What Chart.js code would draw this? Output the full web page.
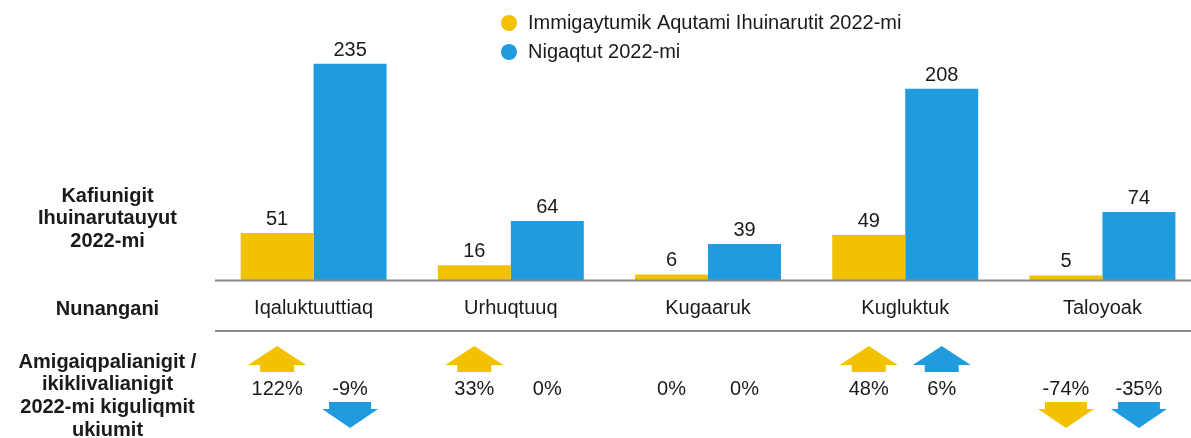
<!DOCTYPE html>
<html>
<head>
<meta charset="utf-8">
<script src="https://cdn.jsdelivr.net/npm/chart.js@4/dist/chart.umd.min.js"></script>
<style>
  html, body { margin: 0; padding: 0; background: #fff; }
  #wrap { width: 1191px; height: 438px; position: relative; }
</style>
</head>
<body>
<div id="wrap"><canvas id="chart"></canvas></div>
<script>
// data
var communities = ['Iqaluktuuttiaq', 'Urhuqtuuq', 'Kugaaruk', 'Kugluktuk', 'Taloyoak'];
var seriesNames = ['Immigaytumik Aqutami Ihuinarutit 2022-mi', 'Nigaqtut 2022-mi'];
var immigaytumik = [51, 16, 6, 49, 5];
var nigaqtut = [235, 64, 39, 208, 74];
var changeImmigaytumik = [122, 33, 0, 48, -74];
var changeNigaqtut = [-9, 0, 0, 6, -35];
var titleBars = ['Kafiunigit', 'Ihuinarutauyut', '2022-mi'];
var titleNames = ['Nunangani'];
var titleChange = ['Amigaiqpalianigit /', 'ikiklivalianigit', '2022-mi kiguliqmit', 'ukiumit'];

var YELLOW = 'rgb(242, 194, 0)';
var BLUE = 'rgb(32, 155, 222)';
var TEXT = '#1a1a1a';
var LINE = '#8a8a8a';
var FONT = "'Liberation Sans', Arial, sans-serif";

function toPoints(arr) {
    return arr.map(function(v, i) { return {x: i, y: v}; });
}

function drawArrow(ctx, cx, up, top, color) {
    ctx.fillStyle = color;
    ctx.beginPath();
    if (up) {
        // tip, head base, stem bottom
        ctx.moveTo(cx, top);
        ctx.lineTo(cx + 29, top + 19);
        ctx.lineTo(cx + 17, top + 19);
        ctx.lineTo(cx + 17, top + 26);
        ctx.lineTo(cx - 17, top + 26);
        ctx.lineTo(cx - 17, top + 19);
        ctx.lineTo(cx - 29, top + 19);
    } else {
        ctx.moveTo(cx - 21, top);
        ctx.lineTo(cx + 21, top);
        ctx.lineTo(cx + 21, top + 7);
        ctx.lineTo(cx + 28, top + 7);
        ctx.lineTo(cx, top + 26);
        ctx.lineTo(cx - 28, top + 7);
        ctx.lineTo(cx - 21, top + 7);
    }
    ctx.closePath();
    ctx.fill();
}

var tablePlugin = {
    id: 'tablePlugin',
    afterDatasetsDraw: function(chart) {
        var ctx = chart.ctx;
        var area = chart.chartArea;
        var base = chart.scales.y.getPixelForValue(0);
        var right = chart.width;
        ctx.save();

        // value labels above bars
        ctx.font = '20px ' + FONT;
        ctx.fillStyle = TEXT;
        ctx.textAlign = 'center';
        ctx.textBaseline = 'alphabetic';
        chart.data.datasets.forEach(function(ds, d) {
            chart.getDatasetMeta(d).data.forEach(function(bar, i) {
                ctx.fillText(String(ds.data[i].y), bar.x, bar.y - 8);
            });
        });

        // lines
        var line2 = base + 51;
        ctx.strokeStyle = LINE;
        ctx.lineWidth = 2;
        ctx.beginPath();
        ctx.moveTo(area.left, base + 0.5);
        ctx.lineTo(right, base + 0.5);
        ctx.moveTo(area.left, line2);
        ctx.lineTo(right, line2);
        ctx.stroke();

        // community names
        ctx.textBaseline = 'middle';
        ctx.fillStyle = TEXT;
        var xs = chart.scales.x;
        communities.forEach(function(c, i) {
            ctx.fillText(c, xs.getPixelForValue(i), base + 28);
        });

        // change row
        var changes = [changeImmigaytumik, changeNigaqtut];
        var colors = [YELLOW, BLUE];
        changes.forEach(function(arr, d) {
            var bars = chart.getDatasetMeta(d).data;
            arr.forEach(function(v, i) {
                var cx = bars[i].x;
                ctx.fillStyle = TEXT;
                ctx.font = '20px ' + FONT;
                ctx.textAlign = 'center';
                ctx.textBaseline = 'middle';
                ctx.fillText(v + '%', cx, line2 + 58);
                if (v > 0) drawArrow(ctx, cx, true, line2 + 15, colors[d]);
                if (v < 0) drawArrow(ctx, cx, false, line2 + 71, colors[d]);
            });
        });

        // row titles on the left
        ctx.font = 'bold 20px ' + FONT;
        ctx.fillStyle = TEXT;
        ctx.textAlign = 'center';
        ctx.textBaseline = 'middle';
        var tx = area.left / 2;
        titleBars.forEach(function(t, k) { ctx.fillText(t, tx, 196 + k * 22.5); });
        titleNames.forEach(function(t) { ctx.fillText(t, tx, base + 29); });
        titleChange.forEach(function(t, k) { ctx.fillText(t, tx, 362 + k * 22.7); });

        // legend
        ctx.font = '20px ' + FONT;
        ctx.textAlign = 'left';
        chart.data.datasets.forEach(function(ds, d) {
            var ly = 23 + d * 29;
            ctx.fillStyle = ds.backgroundColor;
            ctx.beginPath();
            ctx.arc(509, ly, 8, 0, Math.PI * 2);
            ctx.fill();
            ctx.fillStyle = TEXT;
            ctx.fillText(ds.label, 528, ly);
        });

        ctx.restore();
    }
};

var ctx = document.getElementById('chart').getContext('2d');
var myChart = new Chart(ctx, {
    type: 'bar',
    data: {
        datasets: [{
            label: seriesNames[0],
            data: toPoints(immigaytumik),
            backgroundColor: YELLOW,
        }, {
            label: seriesNames[1],
            data: toPoints(nigaqtut),
            backgroundColor: BLUE,
        }],
    },
    options: {
        responsive: true,
        maintainAspectRatio: false,
        animation: false,
        categoryPercentage: 0.74,
        barPercentage: 1.0,
        layout: {
            padding: { left: 215, right: 0, top: 4, bottom: 158 }
        },
        plugins: {
            legend: { display: false },
            tooltip: { enabled: false },
        },
        scales: {
            x: {
                type: 'linear',
                display: false,
                min: -0.5,
                max: 4.449,
                offset: false,
                afterBuildTicks: function(scale) {
                    scale.ticks = communities.map(function(c, i) { return {value: i}; });
                },
            },
            y: {
                display: false,
                min: 0,
                max: 300,
            },
        },
    },
    plugins: [tablePlugin],
});
</script>
</body>
</html>
